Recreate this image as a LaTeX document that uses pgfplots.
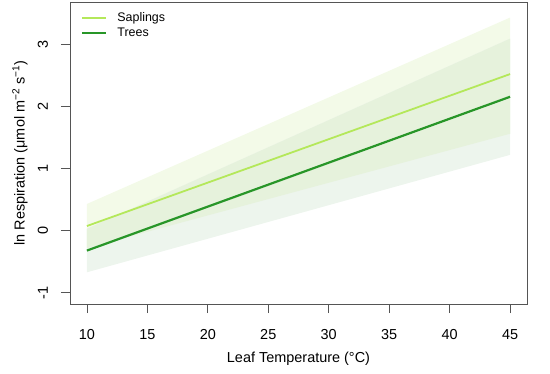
\documentclass[border=0pt]{standalone}
\usepackage{fontspec}
\setmainfont{Liberation Sans}
\usepackage{pgfplots}
\pgfplotsset{compat=1.18}
\definecolor{sapl}{RGB}{180,232,90}
\definecolor{tree}{RGB}{40,150,40}
\definecolor{saplband}{RGB}{243,250,232}
\definecolor{treeband}{RGB}{237,245,237}
\definecolor{overband}{RGB}{230,242,220}
\definecolor{boxcol}{RGB}{85,85,85}
\begin{document}
\begin{tikzpicture}
\path[use as bounding box] (0,0) rectangle (550bp,374bp);
\begin{axis}[
  at={(70bp,70bp)}, anchor=south west,
  scale only axis, width=457bp, height=302bp,
  xmin=8.6, xmax=46.4, ymin=-1.18, ymax=3.68,
  xtick={10,15,...,45}, ytick={-1,0,1,2,3},
  axis line style={boxcol, line width=0.8bp},
  tick style={boxcol, line width=0.8bp},
  tick align=outside, major tick length=9bp,
  xtick pos=bottom, ytick pos=left,
  /pgf/number format/assume math mode=true,
  ticklabel style={font=\fontsize{14.5}{17}\selectfont},
  xticklabel style={anchor=base, yshift=-26bp},
  yticklabel style={xshift=-13bp, rotate=90, anchor=base},
  xlabel={Leaf Temperature (°C)},
  ylabel={ln Respiration (μmol m\textsuperscript{−2} s\textsuperscript{−1})},
  label style={font=\fontsize{14.5}{17}\selectfont},
  xlabel style={at={(axis description cs:0.5,0)}, anchor=base, yshift=-58bp},
  ylabel style={at={(axis description cs:-0.1094,0.5)}, anchor=center},
  legend style={draw=none, fill=none, at={(axis description cs:0,1)}, anchor=north west,
    xshift=8bp, yshift=-7bp, font=\fontsize{12.5}{15}\selectfont,
    nodes={inner sep=1bp, text height=9bp, text depth=3bp}, row sep=1bp,
    /tikz/every odd column/.append style={column sep=9bp}},
  legend cell align=left,
  legend image code/.code={\draw[#1] (0bp,0bp) -- (24bp,0bp);},
]
% Saplings band
\addplot[draw=none, fill=saplband, forget plot] coordinates {(10,0.43) (45,3.43) (45,1.56) (10,-0.28)} -- cycle;
% Trees band
\addplot[draw=none, fill=treeband, forget plot] coordinates {(10,0.03) (45,3.09) (45,1.22) (10,-0.67)} -- cycle;
% overlap
\addplot[draw=none, fill=overband, forget plot] coordinates {(10,0.03) (45,3.09) (45,1.56) (10,-0.28)} -- cycle;
\addplot[sapl, line width=1.8bp] coordinates {(10,0.075) (45,2.52)};
\addlegendentry{Saplings}
\addplot[tree, line width=2.2bp] coordinates {(10,-0.32) (45,2.155)};
\addlegendentry{Trees}
\end{axis}
\end{tikzpicture}
\end{document}
